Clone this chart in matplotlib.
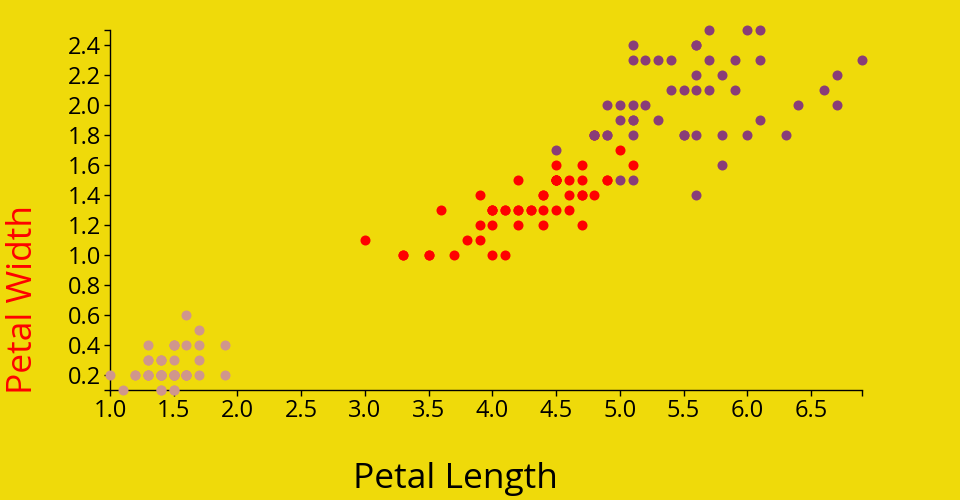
import matplotlib
matplotlib.use('Agg')
import matplotlib.pyplot as plt
import numpy as np

# iris petal measurements, one pair of lists per species
setosa_len = [1.4, 1.4, 1.3, 1.5, 1.4, 1.7, 1.4, 1.5, 1.4, 1.5, 1.5, 1.6, 1.4, 1.1, 1.2, 1.5, 1.3,
              1.4, 1.7, 1.5, 1.7, 1.5, 1.0, 1.7, 1.9, 1.6, 1.6, 1.5, 1.4, 1.6, 1.6, 1.5, 1.5, 1.4,
              1.5, 1.2, 1.3, 1.4, 1.3, 1.5, 1.3, 1.3, 1.3, 1.6, 1.9, 1.4, 1.6, 1.4, 1.5, 1.4]
setosa_wid = [0.2, 0.2, 0.2, 0.2, 0.2, 0.4, 0.3, 0.2, 0.2, 0.1, 0.2, 0.2, 0.1, 0.1, 0.2, 0.4, 0.4,
              0.3, 0.3, 0.3, 0.2, 0.4, 0.2, 0.5, 0.2, 0.2, 0.4, 0.2, 0.2, 0.2, 0.2, 0.4, 0.1, 0.2,
              0.2, 0.2, 0.2, 0.1, 0.2, 0.2, 0.3, 0.3, 0.2, 0.6, 0.4, 0.3, 0.2, 0.2, 0.2, 0.2]
versi_len = [4.7, 4.5, 4.9, 4.0, 4.6, 4.5, 4.7, 3.3, 4.6, 3.9, 3.5, 4.2, 4.0, 4.7, 3.6, 4.4, 4.5,
             4.1, 4.5, 3.9, 4.8, 4.0, 4.9, 4.7, 4.3, 4.4, 4.8, 5.0, 4.5, 3.5, 3.8, 3.7, 3.9, 5.1,
             4.5, 4.5, 4.7, 4.4, 4.1, 4.0, 4.4, 4.6, 4.0, 3.3, 4.2, 4.2, 4.2, 4.3, 3.0, 4.1]
versi_wid = [1.4, 1.5, 1.5, 1.3, 1.5, 1.3, 1.6, 1.0, 1.3, 1.4, 1.0, 1.5, 1.0, 1.4, 1.3, 1.4, 1.5,
             1.0, 1.5, 1.1, 1.8, 1.3, 1.5, 1.2, 1.3, 1.4, 1.4, 1.7, 1.5, 1.0, 1.1, 1.0, 1.2, 1.6,
             1.5, 1.6, 1.5, 1.3, 1.3, 1.3, 1.2, 1.4, 1.2, 1.0, 1.3, 1.2, 1.3, 1.3, 1.1, 1.3]
virg_len = [6.0, 5.1, 5.9, 5.6, 5.8, 6.6, 4.5, 6.3, 5.8, 6.1, 5.1, 5.3, 5.5, 5.0, 5.1, 5.3, 5.5,
            6.7, 6.9, 5.0, 5.7, 4.9, 6.7, 4.9, 5.7, 6.0, 4.8, 4.9, 5.6, 5.8, 6.1, 6.4, 5.6, 5.1,
            5.6, 6.1, 5.6, 5.5, 4.8, 5.4, 5.6, 5.1, 5.1, 5.9, 5.7, 5.2, 5.0, 5.2, 5.4, 5.1]
virg_wid = [2.5, 1.9, 2.1, 1.8, 2.2, 2.1, 1.7, 1.8, 1.8, 2.5, 2.0, 1.9, 2.1, 2.0, 2.4, 2.3, 1.8,
            2.2, 2.3, 1.5, 2.3, 2.0, 2.0, 1.8, 2.1, 1.8, 1.8, 1.8, 2.1, 1.6, 1.9, 2.0, 2.2, 1.5,
            1.4, 2.3, 2.4, 1.8, 1.8, 2.1, 2.4, 2.3, 1.9, 2.3, 2.5, 2.3, 1.9, 2.0, 2.3, 1.8]

x_ticks = [1.0, 1.5, 2.0, 2.5, 3.0, 3.5, 4.0, 4.5, 5.0, 5.5, 6.0, 6.5]
y_ticks = [0.2, 0.4, 0.6, 0.8, 1.0, 1.2, 1.4, 1.6, 1.8, 2.0, 2.2, 2.4]

BG = '#efda0a'
plt.rcParams['font.family'] = ['Open Sans', 'DejaVu Sans']

fig = plt.figure(figsize=(9.6, 5.0), dpi=100, facecolor=BG)
ax = fig.add_axes([110/960, 110/500, 752/960, 360/500])
ax.set_facecolor(BG)

ax.scatter(setosa_len, setosa_wid, s=52, color='#d0968c', linewidths=0, zorder=3, clip_on=False)
ax.scatter(versi_len, versi_wid, s=52, color='#ff0000', linewidths=0, zorder=3, clip_on=False)
ax.scatter(virg_len, virg_wid, s=52, color='#893d78', linewidths=0, zorder=3, clip_on=False)

all_len = setosa_len + versi_len + virg_len
all_wid = setosa_wid + versi_wid + virg_wid
xmin, xmax = min(all_len), max(all_len)
ymin, ymax = min(all_wid), max(all_wid)
ax.set_xlim(xmin, xmax)
ax.set_ylim(ymin, ymax)

# d3-like axes: outer ticks at the domain ends, no labels there
ax.set_xticks(x_ticks + [xmax])
ax.set_xticklabels([f'{v:.1f}' for v in x_ticks] + [''])
ax.set_yticks([ymin] + y_ticks + [ymax])
ax.set_yticklabels([''] + [f'{v:.1f}' for v in y_ticks] + [''])
ax.tick_params(length=4.5, width=1, labelsize=17, colors='black', pad=2)

for side in ['top', 'right']:
    ax.spines[side].set_visible(False)
for side in ['left', 'bottom']:
    ax.spines[side].set_color('black')
    ax.spines[side].set_linewidth(1)

fig.text(455/960, 1 - 479/500, 'Petal Length', fontsize=25.5, color='black', ha='center', va='center')
fig.text(23/960, 1 - 300/500, 'Petal Width', fontsize=25.5, color='#ff0000', ha='center', va='center',
         rotation=90)

fig.savefig('out.png', dpi=100, facecolor=BG)
